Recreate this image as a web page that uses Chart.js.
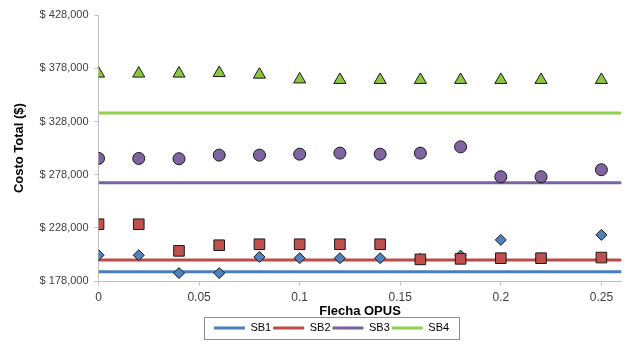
<!DOCTYPE html>
<html>
<head>
<meta charset="utf-8">
<script src="https://cdn.jsdelivr.net/npm/chart.js@4/dist/chart.umd.min.js"></script>
<style>
  html, body { margin: 0; padding: 0; background: #fff; }
  #wrap { width: 630px; height: 345px; }
</style>
</head>
<body>
<div id="wrap"><canvas id="chart"></canvas></div>
<script>
// Data
const flecha = [0, 0.02, 0.04, 0.06, 0.08, 0.1, 0.12, 0.14, 0.16, 0.18, 0.2, 0.22, 0.25];
const sb1Puntos = [202400, 202400, 185600, 185600, 200800, 199600, 199600, 199600, 199000, 202000, 216800, 199600, 221500];
const sb2Puntos = [231500, 231500, 206500, 211800, 212700, 212700, 212700, 212700, 198500, 199000, 199600, 199600, 200200];
const sb3Puntos = [293300, 293300, 293000, 296400, 296400, 297300, 298300, 297300, 298300, 304200, 276100, 276100, 282700];
const sb4Puntos = [373000, 373000, 373000, 373500, 372000, 367500, 367000, 367000, 367000, 367000, 367000, 367000, 367000];

// horizontal reference lines (one level per series)
const series = ["SB1", "SB2", "SB3", "SB4"];
const niveles = [186800, 198000, 270500, 335900];

const xTicks = [0, 0.05, 0.1, 0.15, 0.2, 0.25];
const yTicks = [178000, 228000, 278000, 328000, 378000, 428000];
const xMin = 0, xMax = 0.26;

const lineColors = ["#4A7EBB", "#BE4B48", "#7D60A0", "#92D050"];
const markerColors = ["#4F81BD", "#C0504D", "#8064A2", "#8DC63F"];

const FONT = "'Liberation Sans', Arial, sans-serif";

function toPoints(ys) {
    return flecha.map((x, i) => ({ x: x, y: ys[i] }));
}

const datasets = [];

// lines first (they go in the legend)
series.forEach((name, i) => {
    datasets.push({
        label: name,
        data: [{ x: xMin, y: niveles[i] }, { x: xMax, y: niveles[i] }],
        showLine: true,
        borderColor: lineColors[i],
        backgroundColor: lineColors[i],
        borderWidth: 3,
        pointRadius: 0,
        order: 10 + i
    });
});

// markers
const marcadores = [
    { data: sb1Puntos, style: "rectRot", radius: 5.5, order: 5 },
    { data: sb2Puntos, style: "rect", radius: 7.5, order: 4 },
    { data: sb3Puntos, style: "circle", radius: 6, order: 3 },
    { data: sb4Puntos, style: "triangle", radius: 7, order: 2 }
];
marcadores.forEach((m, i) => {
    datasets.push({
        label: series[i] + " pts",
        data: toPoints(m.data),
        showLine: false,
        pointStyle: m.style,
        pointRadius: m.radius,
        pointBackgroundColor: markerColors[i],
        pointBorderColor: "#1a1a1a",
        pointBorderWidth: 1,
        order: m.order
    });
});

const fmtMoney = v => "$ " + Number(v).toLocaleString("en-US");

// border round the legend, and a small nudge of its position
const legendBox = {
    id: "legendBox",
    afterLayout(chart) {
        const lg = chart.legend;
        lg.left += 10.5;
        lg.right += 10.5;
        lg.top -= 1.5;
        lg.bottom -= 1.5;
    },
    afterDraw(chart) {
        const boxes = chart.legend.legendHitBoxes;
        if (!boxes || !boxes.length) return;
        const last = boxes[boxes.length - 1];
        const l = boxes[0].left - 10;
        const r = last.left + last.width + 10;
        const t = boxes[0].top - 6;
        const b = boxes[0].top + boxes[0].height + 5;
        const ctx = chart.ctx;
        ctx.save();
        ctx.strokeStyle = "#8c8c8c";
        ctx.lineWidth = 1;
        ctx.strokeRect(Math.round(l) + 0.5, Math.round(t) + 0.5, Math.round(r - l), Math.round(b - t));
        ctx.restore();
    }
};

new Chart(document.getElementById("chart"), {
    type: "scatter",
    data: { datasets: datasets },
    options: {
        responsive: true,
        maintainAspectRatio: false,
        devicePixelRatio: 1,
        animation: false,
        layout: { padding: { top: 15, right: 0, left: 12, bottom: 0 } },
        plugins: {
            tooltip: { enabled: false },
            legend: {
                position: "bottom",
                labels: {
                    generateLabels(chart) {
                        return series.map((name, i) => ({
                            text: name,
                            fillStyle: lineColors[i],
                            strokeStyle: lineColors[i],
                            lineWidth: 0,
                            datasetIndex: i,
                            hidden: false
                        }));
                    },
                    boxWidth: 31,
                    boxHeight: 3,
                    padding: 2,
                    color: "#000",
                    font: { family: FONT, size: 11 }
                }
            }
        },
        scales: {
            x: {
                type: "linear",
                min: xMin,
                max: xMax,
                afterBuildTicks: scale => { scale.ticks = xTicks.map(v => ({ value: v })); },
                grid: { drawOnChartArea: false, drawTicks: true, tickLength: 4, color: "#bfbfbf" },
                border: { display: true, color: "#bfbfbf", width: 1 },
                ticks: {
                    callback: v => String(v),
                    color: "#404040",
                    padding: 7,
                    maxRotation: 0,
                    font: { family: FONT, size: 12, lineHeight: 0.9 }
                },
                title: {
                    display: true,
                    text: "Flecha OPUS",
                    color: "#000",
                    padding: { top: -5.5, bottom: 4.5 },
                    font: { family: FONT, size: 13, weight: "bold", lineHeight: 1 }
                }
            },
            y: {
                type: "linear",
                min: yTicks[0],
                max: yTicks[yTicks.length - 1],
                afterBuildTicks: scale => { scale.ticks = yTicks.map(v => ({ value: v })); },
                grid: { drawOnChartArea: false, drawTicks: true, tickLength: 4, color: "#bfbfbf" },
                border: { display: true, color: "#bfbfbf", width: 1 },
                ticks: {
                    callback: v => fmtMoney(v),
                    color: "#404040",
                    padding: 6,
                    font: { family: FONT, size: 11 }
                },
                title: {
                    display: true,
                    text: "Costo Total ($)",
                    color: "#000",
                    padding: { top: 0, bottom: 6 },
                    font: { family: FONT, size: 13, weight: "bold" }
                }
            }
        }
    },
    plugins: [legendBox]
});
</script>
</body>
</html>
